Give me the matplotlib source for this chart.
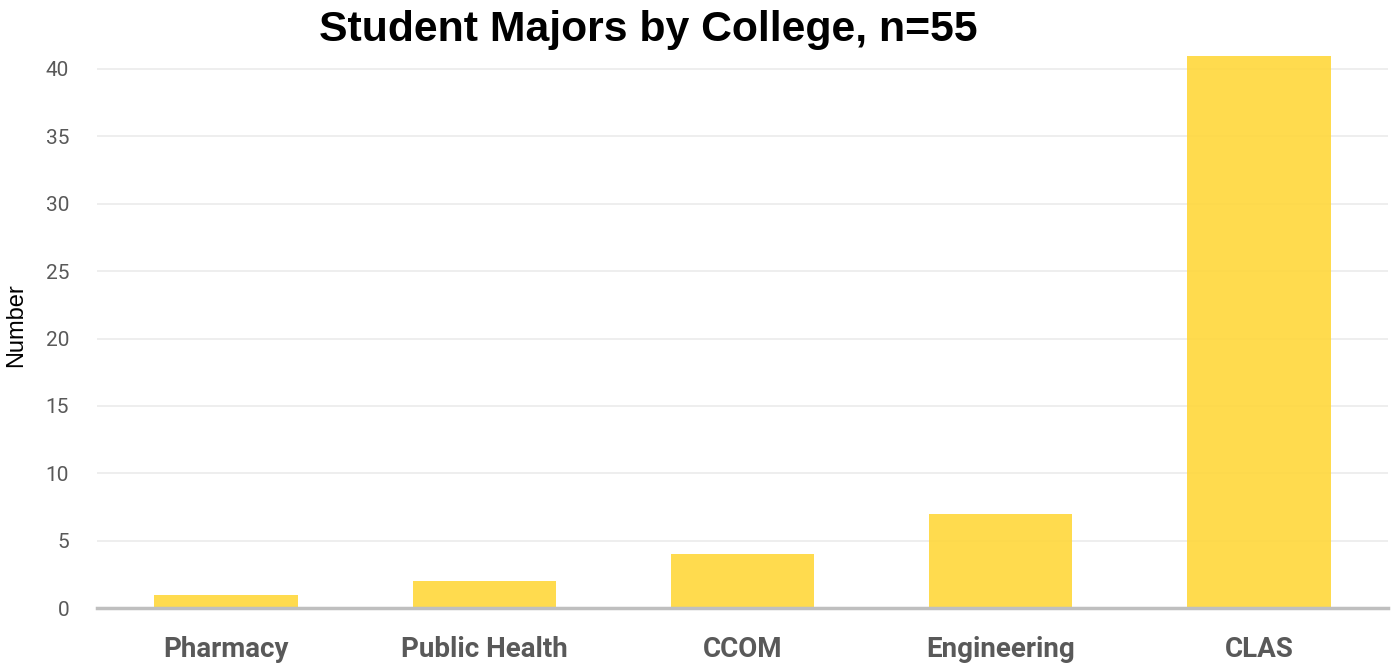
import matplotlib
matplotlib.use('Agg')
import matplotlib.pyplot as plt

colleges = ['Pharmacy', 'Public Health', 'CCOM', 'Engineering', 'CLAS']
counts = [1, 2, 4, 7, 41]
yticks = [0, 5, 10, 15, 20, 25, 30, 35, 40]

fig = plt.figure(figsize=(13.95, 6.64), dpi=100)
ax = fig.add_axes([0.0695, 0.0843, 0.9255, 0.8524])

ax.bar(range(len(colleges)), counts, width=0.555, color='#FFD83F', alpha=0.92, zorder=3)

ax.set_xlim(-0.5, len(colleges) - 0.5)
ax.set_ylim(0, 42)
ax.set_yticks(yticks)
ax.set_yticklabels([str(t) for t in yticks], fontsize=15, color='#595959', family='Roboto')
ax.set_xticks(range(len(colleges)))
ax.set_xticklabels(colleges, fontsize=20, fontweight='bold', color='#595959', family='Roboto')
ax.tick_params(axis='both', length=0)
ax.tick_params(axis='x', pad=20)
ax.tick_params(axis='y', pad=20)

ax.grid(axis='y', color='#EDEDED', linewidth=1.3, zorder=0)
for s in ['top', 'right', 'left']:
    ax.spines[s].set_visible(False)
ax.spines['bottom'].set_color('#BFBFBF')
ax.spines['bottom'].set_linewidth(2.5)
ax.spines['bottom'].set_zorder(4)

ax.set_ylabel('Number', fontsize=17, family='Liberation Sans', labelpad=13)

fig.text(648 / 1395, 1 - 30 / 664, 'Student Majors by College, n=55', ha='center', va='center',
         fontsize=30.8, fontweight='bold', family='Liberation Sans')

fig.savefig('out.png', dpi=100)
